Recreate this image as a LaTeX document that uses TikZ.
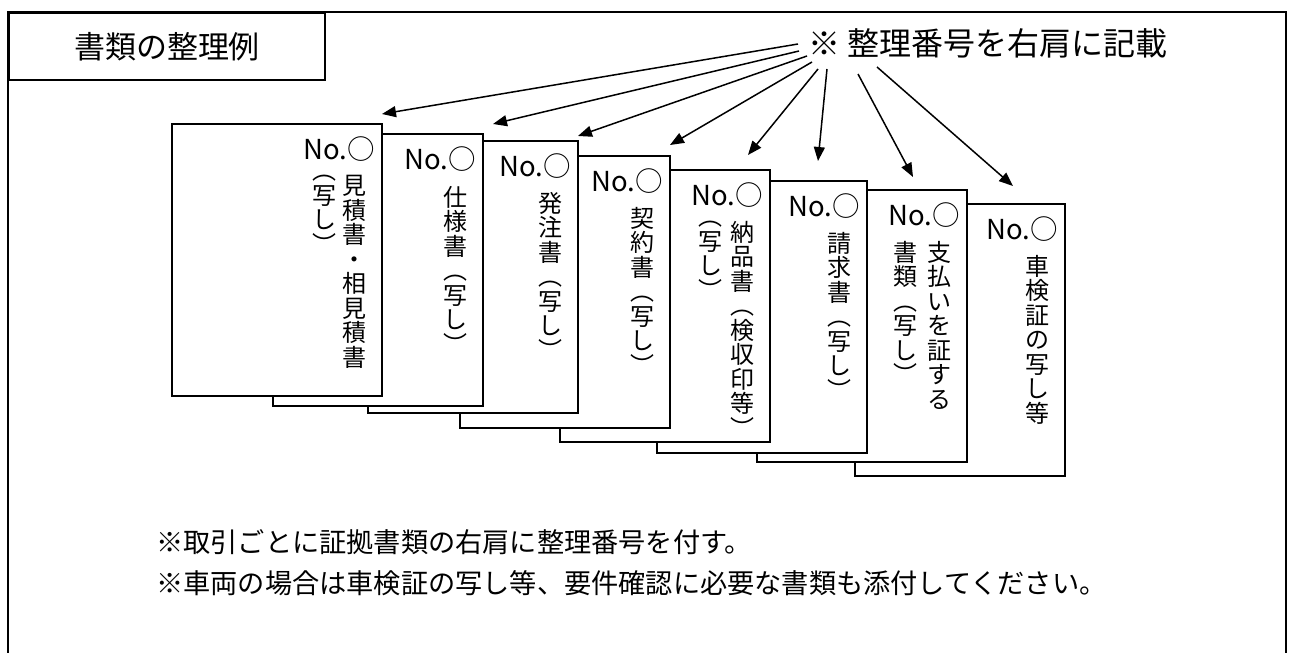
\documentclass[tikz,border=0pt]{standalone}
\usepackage{fontspec}
\setmainfont{Noto Sans CJK JP}
\usetikzlibrary{arrows.meta}
\begin{document}
\begin{tikzpicture}[x=1pt,y=-1pt,
  frame/.style={line width=2pt},
  doc/.style={draw, line width=2pt, fill=white, minimum width=210pt, minimum height=272pt, inner sep=0pt, anchor=north west},
  numlbl/.style={anchor=east, inner sep=0pt, font=\fontsize{27.5}{27.5}\selectfont},
  vcol/.style={anchor=north, inner sep=0pt, align=center, font=\fontsize{24}{24.5}\selectfont, execute at begin node={\vphantom{見}}},
  arr/.style={line width=1.5pt, -{Triangle[length=14pt,width=11pt]}},
  bottomtxt/.style={anchor=west, inner sep=0pt, font=\fontsize{27.2}{27.2}\selectfont}
]
\useasboundingbox (0,0) rectangle (1291,653);
% outer frame (bottom edge lies beyond the picture)
\draw[frame] (8,653) -- (8,12) -- (1286,12) -- (1286,653);
% title box
\node[draw, frame, minimum width=316pt, minimum height=67pt, anchor=north west, inner sep=0pt,
      font=\fontsize{31}{31}\selectfont] (title) at (8,12) {書類の整理例};
% callout
\node[inner sep=0pt, font=\fontsize{32}{32}\selectfont] (note) at (988,43) {※ 整理番号を右肩に記載};

% documents, back to front
\node[doc] (d8) at (854,203) {};
\node[numlbl] (n8) at ([xshift=-8pt,yshift=-26pt]d8.north east) {No.○};
\node[vcol] (c8) at ([xshift=-29pt,yshift=-52pt]d8.north east) {車\\検\\証\\の\\写\\し\\等};

\node[doc] (d7) at (756,189) {};
\node[numlbl] (n7) at ([xshift=-8pt,yshift=-26pt]d7.north east) {No.○};
\node[vcol] (c7) at ([xshift=-29pt,yshift=-52pt]d7.north east) {支\\払\\い\\を\\証\\す\\る};
\node[vcol] (e7) at ([xshift=-63pt,yshift=-52pt]d7.north east) {書\\類\\︵\\写\\し\\︶};

\node[doc] (d6) at (656,180) {};
\node[numlbl] (n6) at ([xshift=-8pt,yshift=-26pt]d6.north east) {No.○};
\node[vcol] (c6) at ([xshift=-29pt,yshift=-52pt]d6.north east) {請\\求\\書\\︵\\写\\し\\︶};

\node[doc] (d5) at (559,169) {};
\node[numlbl] (n5) at ([xshift=-8pt,yshift=-26pt]d5.north east) {No.○};
\node[vcol] (c5) at ([xshift=-29pt,yshift=-52pt]d5.north east) {納\\品\\書\\︵\\検\\収\\印\\等\\︶};
\node[vcol] (e5) at ([xshift=-61pt,yshift=-52pt]d5.north east) {︵\\写\\し\\︶};

\node[doc] (d4) at (459,155) {};
\node[numlbl] (n4) at ([xshift=-8pt,yshift=-26pt]d4.north east) {No.○};
\node[vcol] (c4) at ([xshift=-29pt,yshift=-52pt]d4.north east) {契\\約\\書\\︵\\写\\し\\︶};

\node[doc] (d3) at (367,140) {};
\node[numlbl] (n3) at ([xshift=-8pt,yshift=-26pt]d3.north east) {No.○};
\node[vcol] (c3) at ([xshift=-29pt,yshift=-52pt]d3.north east) {発\\注\\書\\︵\\写\\し\\︶};

\node[doc] (d2) at (272,133) {};
\node[numlbl] (n2) at ([xshift=-8pt,yshift=-26pt]d2.north east) {No.○};
\node[vcol] (c2) at ([xshift=-29pt,yshift=-53pt]d2.north east) {仕\\様\\書\\︵\\写\\し\\︶};

\node[doc] (d1) at (171,123) {};
\node[numlbl] (n1) at ([xshift=-8pt,yshift=-26pt]d1.north east) {No.○};
\node[vcol] (c1) at ([xshift=-29pt,yshift=-52pt]d1.north east) {見\\積\\書\\・\\相\\見\\積\\書};
\node[vcol] (e1) at ([xshift=-59pt,yshift=-52pt]d1.north east) {︵\\写\\し\\︶};

% arrow start / end points
\coordinate (s1) at (798,44);  \coordinate (t1) at (382,114);
\coordinate (s2) at (799,51);  \coordinate (t2) at (493,124);
\coordinate (s3) at (807,56);  \coordinate (t3) at (578,136);
\coordinate (s4) at (812,62);  \coordinate (t4) at (670,145);
\coordinate (s5) at (818,69);  \coordinate (t5) at (748,155);
\coordinate (s6) at (827,69);  \coordinate (t6) at (818,161);
\coordinate (s7) at (858,74);  \coordinate (t7) at (913,177);
\coordinate (s8) at (877,67);  \coordinate (t8) at (1013,186);
\foreach \i in {1,...,8} { \draw[arr] (s\i) -- (t\i); }

% notes
\node[bottomtxt] (l1) at (156,542) {※取引ごとに証拠書類の右肩に整理番号を付す。};
\node[bottomtxt] (l2) at (156,583) {※車両の場合は車検証の写し等、要件確認に必要な書類も添付してください。};
\end{tikzpicture}
\end{document}
